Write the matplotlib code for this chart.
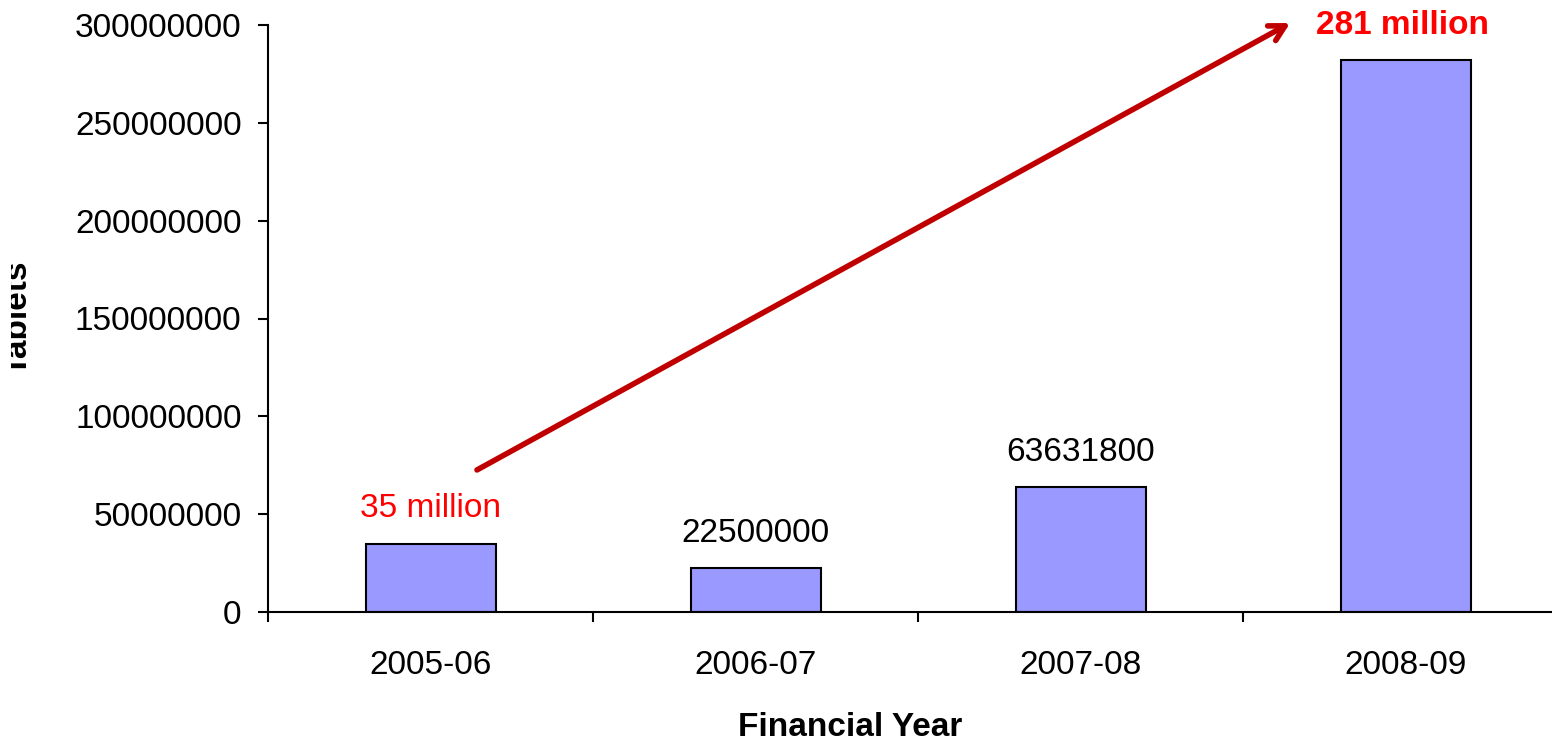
import matplotlib
matplotlib.use("Agg")
import matplotlib.pyplot as plt
from matplotlib.transforms import Bbox, TransformedBbox

plt.rcParams['font.family'] = ['Liberation Sans', 'DejaVu Sans']

years = ["2005-06", "2006-07", "2007-08", "2008-09"]
tablets = [35000000, 22500000, 63631800, 282000000]
bar_labels = ["35 million", "22500000", "63631800", None]
label_colors = ["#FF0000", "black", "black", None]
yticks = [0, 50000000, 100000000, 150000000, 200000000, 250000000, 300000000]

W, H = 1552, 742
fig = plt.figure(figsize=(W / 100, H / 100), dpi=100)
ax = fig.add_axes([268 / W, 130 / H, 1300 / W, 587 / H])

x = list(range(len(years)))
ax.bar(x, tablets, width=0.4, color="#9999FF", edgecolor="black", linewidth=1.5, zorder=2)

ax.set_xlim(-0.5, len(years) - 0.5)
ax.set_ylim(0, 300000000)
ax.set_yticks(yticks)
ax.set_yticklabels([str(v) for v in yticks])

# category boundary ticks (major) and centered labels (minor)
ax.set_xticks([i - 0.5 for i in range(len(years) + 1)])
ax.set_xticklabels([])
ax.set_xticks(x, minor=True)
ax.set_xticklabels(years, minor=True)
ax.tick_params(axis='x', which='major', direction='out', length=7, width=1.5)
ax.tick_params(axis='x', which='minor', length=0, pad=27, labelsize=24)
ax.tick_params(axis='y', direction='out', length=7, width=1.5, pad=12, labelsize=24)

for s in ['top', 'right']:
    ax.spines[s].set_visible(False)
for s in ['left', 'bottom']:
    ax.spines[s].set_linewidth(1.5)

for xi, v, lab, c in zip(x, tablets, bar_labels, label_colors):
    if lab is None:
        continue
    ax.annotate(lab, (xi, v), xytext=(0, 25), textcoords='offset points',
                ha='center', va='center', fontsize=24, color=c)

ax.text(2.99, 299500000, "281 million", ha='center', va='center', fontsize=24,
        fontweight='bold', color="#FF0000", clip_on=False)

ax.annotate("", xy=(2.645, 301000000), xytext=(0.143, 72600000),
            arrowprops=dict(arrowstyle='->,head_length=1.1,head_width=0.6',
                            color="#C00000", lw=4, shrinkA=0, shrinkB=0),
            annotation_clip=False)

fig.text(850 / W, 1 - 728 / H, "Financial Year", ha='center', va='center',
         fontsize=24, fontweight='bold')
ylab = fig.text(34 / W, 1 - 318 / H, "Tablets", rotation=90, ha='right', va='center',
                fontsize=24, fontweight='bold')
ylab.set_clip_box(TransformedBbox(Bbox([[11 / W, 0], [1, 1]]), fig.transFigure))
ylab.set_clip_on(True)

fig.savefig("out.png", dpi=100)
